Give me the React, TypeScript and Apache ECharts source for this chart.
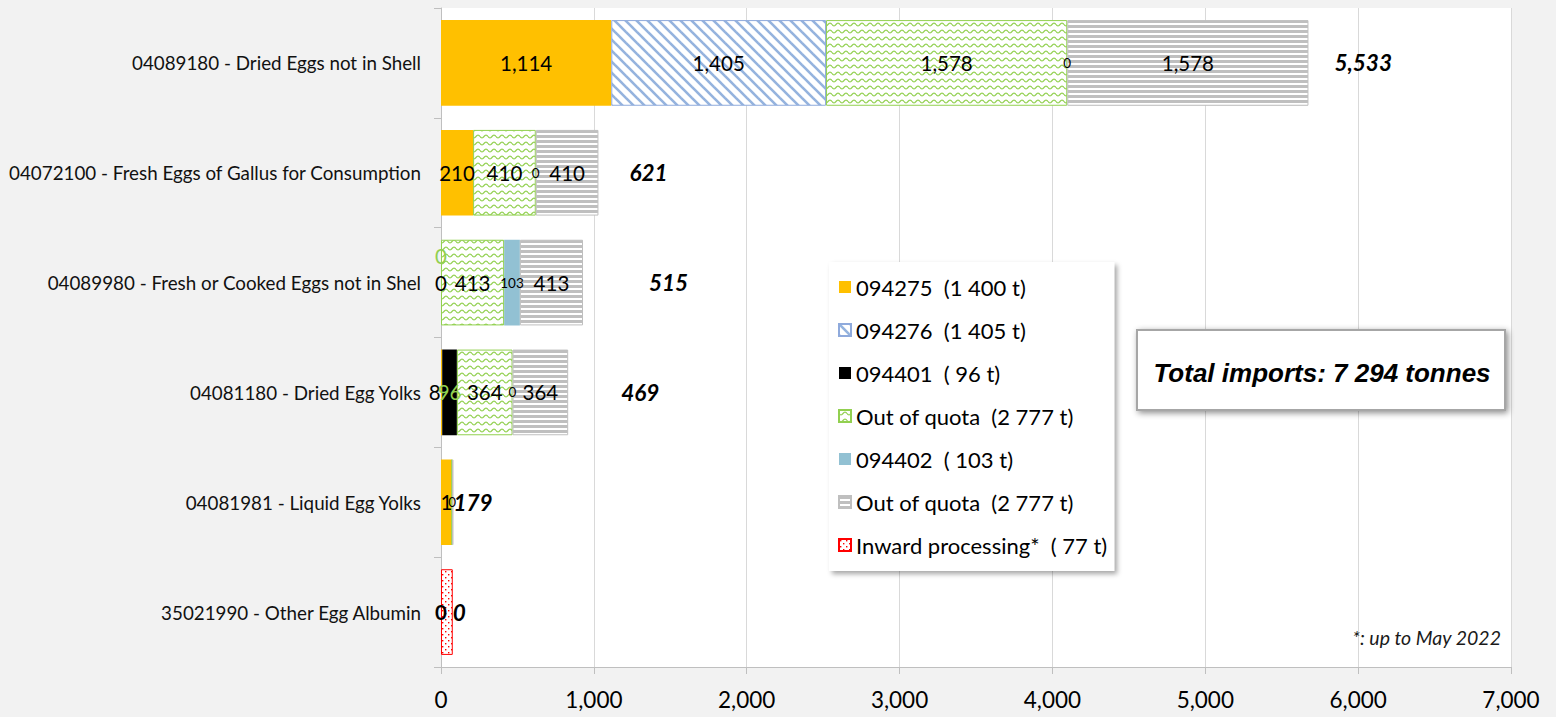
import React, { useEffect, useRef } from 'react';
import * as echarts from 'echarts';

const categories = [
  '04089180 - Dried Eggs not in Shell',
  '04072100 - Fresh Eggs of Gallus for Consumption',
  '04089980 - Fresh or Cooked Eggs not in Shel',
  '04081180 - Dried Egg Yolks',
  '04081981 - Liquid Egg Yolks',
  '35021990 - Other Egg Albumin',
];

const seriesNames = [
  '094275  (1 400 t)',
  '094276  (1 405 t)',
  '094401  ( 96 t)',
  'Out of quota  (2 777 t)',
  '094402  ( 103 t)',
  'Out of quota  (2 777 t) ',
  'Inward processing*  ( 77 t)',
];

const v094275 = [1114, 210, 0, 8, 70, 0];
const v094276 = [1405, null, null, null, null, null];
const v094401 = [null, null, 0, 96, null, null];
const vOutQuota1 = [1578, 410, 413, 364, 3, null];
const v094402 = [0, 0, 103, 0, 0, null];
const vOutQuota2 = [1578, 410, 413, 364, 8, null];
const vInward = [null, null, null, null, null, 77];
const totals = [5533, 621, 515, 469, 179, 0];

// label texts as printed on the chart ('' = no label)
const t094275 = ['1,114', '210', '0', '8', '1', '0'];
const tOutQuota1 = ['1,578', '410', '413', '364', '', ''];
const tOutQuota2 = ['1,578', '410', '413', '364', '', ''];

const xTicks = [0, 1000, 2000, 3000, 4000, 5000, 6000, 7000];

const FONT = 'Lato';

function makeCanvas(w: number, h: number, draw: (c: CanvasRenderingContext2D) => void) {
  const cv = document.createElement('canvas');
  cv.width = w;
  cv.height = h;
  const ctx = cv.getContext('2d')!;
  ctx.fillStyle = '#ffffff';
  ctx.fillRect(0, 0, w, h);
  draw(ctx);
  return cv;
}

export default function App() {
  const ref = useRef<HTMLDivElement>(null);
  useEffect(() => {
    if (!ref.current) return;
    const chart = echarts.init(ref.current, null, { renderer: 'svg' });

    const hatch = makeCanvas(11, 11, (c) => {
      c.strokeStyle = '#95B3DE';
      c.lineWidth = 2.6;
      for (const k of [-11, 0, 11]) {
        c.beginPath();
        c.moveTo(k - 2, -2);
        c.lineTo(k + 13, 13);
        c.stroke();
      }
    });
    const wave = makeCanvas(8, 7, (c) => {
      c.strokeStyle = '#92D050';
      c.lineWidth = 1.2;
      c.beginPath();
      for (let x = 0; x <= 8; x += 0.5) {
        const y = 3.5 + 1.4 * Math.sin((2 * Math.PI * x) / 8);
        if (x === 0) c.moveTo(x, y);
        else c.lineTo(x, y);
      }
      c.stroke();
    });
    const stripes = makeCanvas(4, 5, (c) => {
      c.fillStyle = '#BFBFBF';
      c.fillRect(0, 0, 4, 3);
    });
    const dots = makeCanvas(6, 6, (c) => {
      c.fillStyle = '#FF0000';
      c.fillRect(1, 1, 1.4, 1.4);
      c.fillRect(4, 4, 1.4, 1.4);
    });

    const pat = (img: HTMLCanvasElement) => ({ image: img, repeat: 'repeat' });

    const baseLabel = {
      show: true,
      position: 'inside',
      color: '#000',
      fontFamily: FONT,
      fontSize: 20.5,
    };

    const fmt = (v: number) => v.toLocaleString('en-US');

    const mk = (
      vals: (number | null)[],
      texts: string[] | null,
      overrides: Record<number, any> = {}
    ) =>
      vals.map((v, i) => {
        if (v === null) return '-';
        const txt = texts ? texts[i] : fmt(v);
        const item: any = { value: v };
        const lab: any = { formatter: txt };
        if (txt === '') lab.show = false;
        if (overrides[i]) Object.assign(lab, overrides[i]);
        item.label = lab;
        return item;
      });

    const totalOffsets = [26, 31, 66, 53, 0, 0];

    const option: any = {
      animation: false,
      backgroundColor: '#f2f2f2',
      grid: {
        left: 441,
        right: 45,
        top: 8,
        bottom: 50,
        show: true,
        backgroundColor: '#ffffff',
        borderWidth: 0,
      },
      legend: {
        orient: 'vertical',
        left: 829,
        top: 262,
        data: seriesNames,
        selectedMode: false,
        icon: 'rect',
        itemWidth: 12,
        itemHeight: 12,
        itemGap: 21,
        padding: [14, 7, 15, 9],
        backgroundColor: '#ffffff',
        shadowBlur: 5,
        shadowColor: 'rgba(0,0,0,0.35)',
        shadowOffsetX: 3,
        shadowOffsetY: 3,
        textStyle: { fontFamily: FONT, fontSize: 22, color: '#000' },
      },
      xAxis: {
        type: 'value',
        min: 0,
        max: 7000,
        interval: 1000,
        axisLine: { show: true, lineStyle: { color: '#bfbfbf', width: 1 } },
        axisTick: { show: true, length: 7, lineStyle: { color: '#bfbfbf' } },
        splitLine: { show: true, lineStyle: { color: '#d9d9d9', width: 1 } },
        axisLabel: {
          fontFamily: FONT,
          fontSize: 22.5,
          color: '#000',
          margin: 21,
          formatter: (v: number) => (xTicks.includes(v) ? fmt(v) : ''),
        },
      },
      yAxis: {
        type: 'category',
        inverse: true,
        data: categories,
        axisLine: { show: true, lineStyle: { color: '#bfbfbf', width: 1 } },
        axisTick: { show: true, length: 7, lineStyle: { color: '#bfbfbf' } },
        axisLabel: {
          fontFamily: FONT,
          fontSize: 18.8,
          color: '#111',
          margin: 20,
        },
      },
      graphic: [
        {
          type: 'rect',
          shape: { x: 1137, y: 330, width: 368, height: 80 },
          style: {
            fill: '#ffffff',
            stroke: '#a6a6a6',
            lineWidth: 2,
            shadowBlur: 6,
            shadowColor: 'rgba(0,0,0,0.45)',
            shadowOffsetX: 2,
            shadowOffsetY: 2,
          },
          z: 100,
        },
        {
          type: 'text',
          x: 1322,
          y: 373,
          z: 101,
          style: {
            text: 'Total imports: 7 294 tonnes',
            fontFamily: 'Liberation Sans',
            fontSize: 26,
            fontWeight: 'bold',
            fontStyle: 'italic',
            fill: '#000',
            align: 'center',
            verticalAlign: 'middle',
          },
        },
        {
          type: 'text',
          x: 1501,
          y: 637,
          z: 101,
          style: {
            text: '*: up to May 2022',
            fontFamily: FONT,
            fontSize: 19.5,
            fontStyle: 'italic',
            fill: '#1a1a1a',
            align: 'right',
            verticalAlign: 'middle',
          },
        },
      ],
      series: [
        {
          name: seriesNames[0],
          type: 'bar',
          stack: 'a',
          barCategoryGap: '22%',
          itemStyle: { color: '#FFC000' },
          label: baseLabel,
          data: mk(v094275, t094275, { 3: { offset: [-7, 0] }, 5: { fontWeight: 'bold' } }),
        },
        {
          name: seriesNames[1],
          type: 'bar',
          stack: 'a',
          itemStyle: { color: pat(hatch), borderColor: '#8FAADC', borderWidth: 1 },
          label: baseLabel,
          data: mk(v094276, null),
        },
        {
          name: seriesNames[2],
          type: 'bar',
          stack: 'a',
          itemStyle: { color: '#000000' },
          label: { ...baseLabel, color: '#92D050' },
          data: mk(v094401, null, { 2: { offset: [0, -27] } }),
        },
        {
          name: seriesNames[3],
          type: 'bar',
          stack: 'a',
          itemStyle: { color: pat(wave), borderColor: '#92D050', borderWidth: 1 },
          label: baseLabel,
          data: mk(vOutQuota1, tOutQuota1),
        },
        {
          name: seriesNames[4],
          type: 'bar',
          stack: 'a',
          itemStyle: { color: '#92C1D3' },
          label: { ...baseLabel, fontSize: 13.5 },
          data: mk(v094402, null),
        },
        {
          name: seriesNames[5],
          type: 'bar',
          stack: 'a',
          itemStyle: { color: pat(stripes), borderColor: '#BFBFBF', borderWidth: 1 },
          label: baseLabel,
          data: mk(vOutQuota2, tOutQuota2),
        },
        {
          name: seriesNames[6],
          type: 'bar',
          stack: 'a',
          itemStyle: { color: pat(dots), borderColor: '#FF0000', borderWidth: 1 },
          label: { show: false },
          data: mk(vInward, null),
        },
        {
          name: 'Total',
          type: 'bar',
          stack: 'a',
          itemStyle: { color: 'rgba(0,0,0,0)' },
          label: {
            show: true,
            position: 'insideLeft',
            distance: 0,
            color: '#000',
            fontFamily: FONT,
            fontSize: 22.5,
            fontWeight: 'bold',
            fontStyle: 'italic',
          },
          data: totals.map((v, i) => ({
            value: v,
            label: { formatter: fmt(v), offset: [totalOffsets[i], 0] },
          })),
        },
      ],
    };

    chart.setOption(option);
    return () => chart.dispose();
  }, []);

  return (
    <div
      ref={ref}
      style={{ position: 'absolute', left: 0, top: 0, width: 1556, height: 717 }}
    />
  );
}
